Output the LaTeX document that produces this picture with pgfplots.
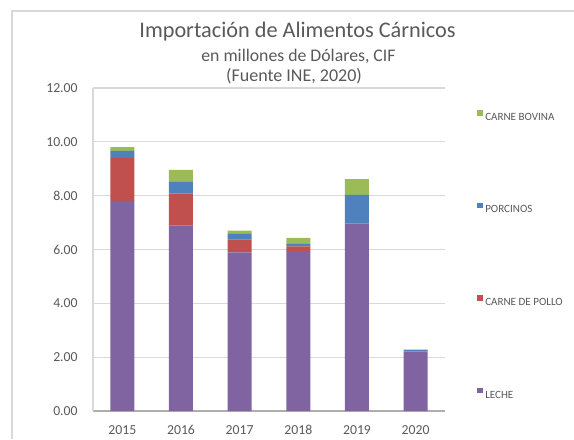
\documentclass[border=0pt]{standalone}
\usepackage{pgfplots}
\pgfplotsset{compat=1.18}
\usepackage{fontspec}
\setmainfont{Carlito}
\definecolor{txt}{HTML}{595959}
\definecolor{gridc}{HTML}{D9D9D9}
\definecolor{cLeche}{HTML}{8064A2}
\definecolor{cPollo}{HTML}{C0504D}
\definecolor{cPorc}{HTML}{4F81BD}
\definecolor{cBov}{HTML}{9BBB59}
\begin{document}
\begin{tikzpicture}
\begin{axis}[
  at={(0pt,0pt)}, anchor=south west,
  scale only axis, width=264pt, height=242.25pt,
  ybar stacked, bar width=18pt,
  xmin=-0.5, xmax=5.5, ymin=0, ymax=12,
  xtick={0,1,2,3,4,5}, xticklabels={2015,2016,2017,2018,2019,2020},
  ytick={0,2,4,6,8,10,12},
  yticklabel style={/pgf/number format/fixed,/pgf/number format/fixed zerofill,/pgf/number format/precision=2,xshift=-8pt},
  /pgf/number format/assume math mode=true,
  ticklabel style={text=txt,font=\fontsize{10.3}{12}\selectfont},
  xticklabel style={anchor=base, yshift=-17.5pt},
  major tick length=0pt,
  ymajorgrids, grid style={gridc,line width=0.8pt},
  axis lines*=left, axis line style={gridc,line width=0.8pt},
  every outer x axis line/.append style={draw=gridc!80!black},
  reverse legend,
  legend style={at={(1.0909,0.933)}, anchor=north west, draw=none, fill=none,
    inner sep=0pt, row sep=61.7pt, text=txt,
    font=\fontsize{8.3}{9}\selectfont,
    nodes={inner sep=0pt, text height=5.5pt, text depth=0pt}},
  legend image code/.code={\fill[#1,draw=none] (0pt,0.8pt) rectangle (4.2pt,5pt);},
  legend cell align=left,
]
\addplot[fill=cLeche,draw=none] coordinates {(0,7.81) (1,6.90) (2,5.89) (3,5.94) (4,6.96) (5,2.21)};
\addplot[fill=cPollo,draw=none] coordinates {(0,1.59) (1,1.18) (2,0.49) (3,0.18) (4,0) (5,0)};
\addplot[fill=cPorc,draw=none] coordinates {(0,0.26) (1,0.43) (2,0.22) (3,0.09) (4,1.07) (5,0.07)};
\addplot[fill=cBov,draw=none] coordinates {(0,0.14) (1,0.45) (2,0.10) (3,0.22) (4,0.58) (5,0)};
\legend{\hspace{1.8pt}LECHE,\hspace{1.8pt}CARNE DE POLLO,\hspace{1.8pt}PORCINOS,\hspace{1.8pt}CARNE BOVINA}
\end{axis}
\draw[gridc,line width=0.8pt] (-60.75pt,-21pt) -- (-60.75pt,300pt) -- (360.75pt,300pt);
\node[anchor=base,text=txt,font=\fontsize{16.7}{18}\selectfont] at (153.4pt,280pt) {Importación de Alimentos Cárnicos};
\node[anchor=base,text=txt,font=\fontsize{13.3}{15}\selectfont] at (154.1pt,262pt) {en millones de Dólares, CIF};
\node[anchor=base,text=txt,font=\fontsize{13.5}{15}\selectfont] at (150.75pt,247pt) {(Fuente INE, 2020)};
\pgfresetboundingbox
\path[use as bounding box] (-69.75pt,-21pt) rectangle (360.75pt,308.25pt);
\end{tikzpicture}
\end{document}
